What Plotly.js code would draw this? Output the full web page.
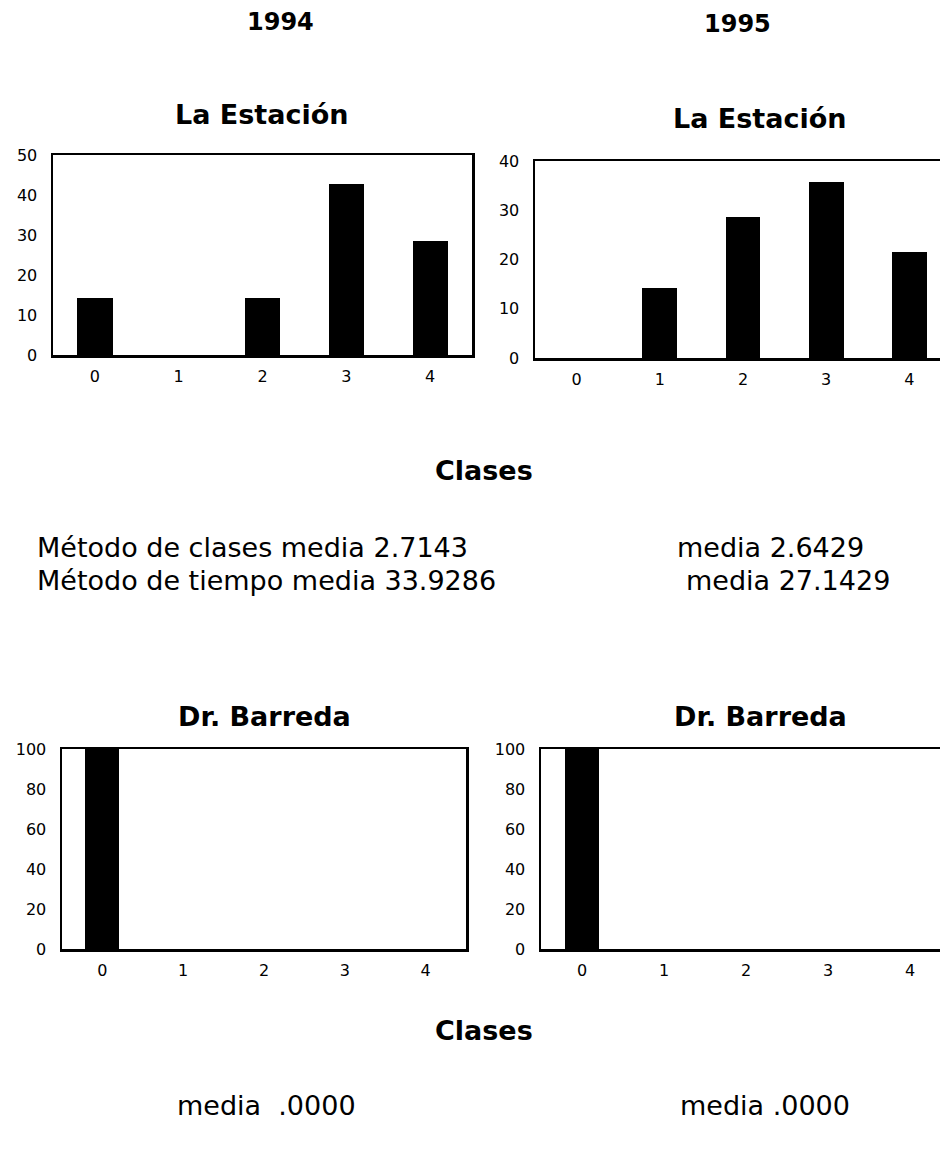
<!DOCTYPE html>
<html>
<head>
<meta charset="utf-8">
<script src="https://cdn.plot.ly/plotly-3.0.1.min.js"></script>
<style>
  html, body { margin: 0; padding: 0; background: #fff; overflow: hidden; }
  #chart { width: 960px; height: 1152px; }
</style>
</head>
<body>
<div id="chart"></div>
<script>
// Frequency (%) of each class, per site and year
const clases = [0, 1, 2, 3, 4];
const classLabels = ['0', '1', '2', '3', '4'];
const estacion1994 = [14.29, 0, 14.29, 42.86, 28.57];
const estacion1995 = [0, 14.29, 28.57, 35.71, 21.43];
const barreda1994 = [100, 0, 0, 0, 0];
const barreda1995 = [100, 0, 0, 0, 0];

const years = ['1994', '1995'];
const siteNames = ['La Estación', 'Dr. Barreda'];
const axisTitle = 'Clases';
const estacionMeans = [
  'Método de clases media 2.7143',
  'Método de tiempo media 33.9286',
  'media 2.6429',
  'media 27.1429'
];
const barredaMeans = ['media  .0000', 'media .0000'];

const W = 960, H = 1152;
const FONT = 'DejaVu Sans, Liberation Sans, Arial, sans-serif';
const fx = p => p / W;
const fy = p => 1 - p / H;

function barTrace(y, xa, ya) {
  return {
    type: 'bar', x: clases, y: y, xaxis: xa, yaxis: ya,
    width: 0.42, marker: { color: '#000', line: { width: 0 } },
    hoverinfo: 'x+y', showlegend: false
  };
}

const data = [
  barTrace(estacion1994, 'x', 'y'),
  barTrace(estacion1995, 'x2', 'y2'),
  barTrace(barreda1994, 'x3', 'y3'),
  barTrace(barreda1995, 'x4', 'y4')
];

function xAxis(left, right, anchor) {
  return {
    domain: [fx(left), fx(right)], anchor: anchor,
    range: [-0.5, 4.5], tickmode: 'array', tickvals: clases, ticktext: classLabels,
    showline: true, mirror: true, linecolor: '#000', linewidth: 2.5,
    showgrid: false, zeroline: false, ticks: '',
    ticklabelstandoff: 5,
    tickfont: { family: FONT, size: 16, color: '#000' }, fixedrange: true
  };
}
function yAxis(top, bottom, max, step, anchor) {
  return {
    domain: [fy(bottom), fy(top)], anchor: anchor,
    range: [0, max], dtick: step, tick0: 0,
    showline: true, mirror: true, linecolor: '#000', linewidth: 2.5,
    showgrid: false, zeroline: false, ticks: '',
    ticklabelstandoff: 10,
    tickfont: { family: FONT, size: 16, color: '#000' }, fixedrange: true
  };
}

function label(text, x, y, size, bold, anchor) {
  return {
    text: text, xref: 'paper', yref: 'paper', x: fx(x), y: fy(y),
    xanchor: anchor || 'center', yanchor: 'middle', showarrow: false,
    font: { family: FONT, size: size, color: '#000', weight: bold ? 'bold' : 'normal' }
  };
}

const layout = {
  width: W, height: H,
  margin: { l: 0, r: 0, t: 0, b: 0 },
  paper_bgcolor: '#fff', plot_bgcolor: '#fff',
  bargap: 0,
  xaxis: xAxis(53, 472, 'y'),
  yaxis: yAxis(155, 355, 50, 10, 'x'),
  xaxis2: xAxis(535, 951, 'y2'),
  yaxis2: yAxis(161, 358, 40, 10, 'x2'),
  xaxis3: xAxis(62, 466, 'y3'),
  yaxis3: yAxis(749, 949, 100, 20, 'x3'),
  xaxis4: xAxis(541, 951, 'y4'),
  yaxis4: yAxis(749, 949, 100, 20, 'x4'),
  annotations: [
    label(years[0], 280, 22, 24, true),
    label(years[1], 737, 24, 24, true),
    label(siteNames[0], 262, 115, 27, true),
    label(siteNames[0], 760, 118, 27, true),
    label(axisTitle, 484, 470, 27, true),
    label(estacionMeans[0], 35, 547, 27, false, 'left'),
    label(estacionMeans[1], 35, 580, 27, false, 'left'),
    label(estacionMeans[2], 675, 547, 27, false, 'left'),
    label(estacionMeans[3], 684, 580, 27, false, 'left'),
    label(siteNames[1], 264, 716, 27, true),
    label(siteNames[1], 760, 716, 27, true),
    label(axisTitle, 484, 1030, 27, true),
    label(barredaMeans[0], 175, 1105, 27, false, 'left'),
    label(barredaMeans[1], 678, 1105, 27, false, 'left')
  ]
};

Plotly.newPlot('chart', data, layout, { displayModeBar: false, staticPlot: true });
</script>
</body>
</html>
